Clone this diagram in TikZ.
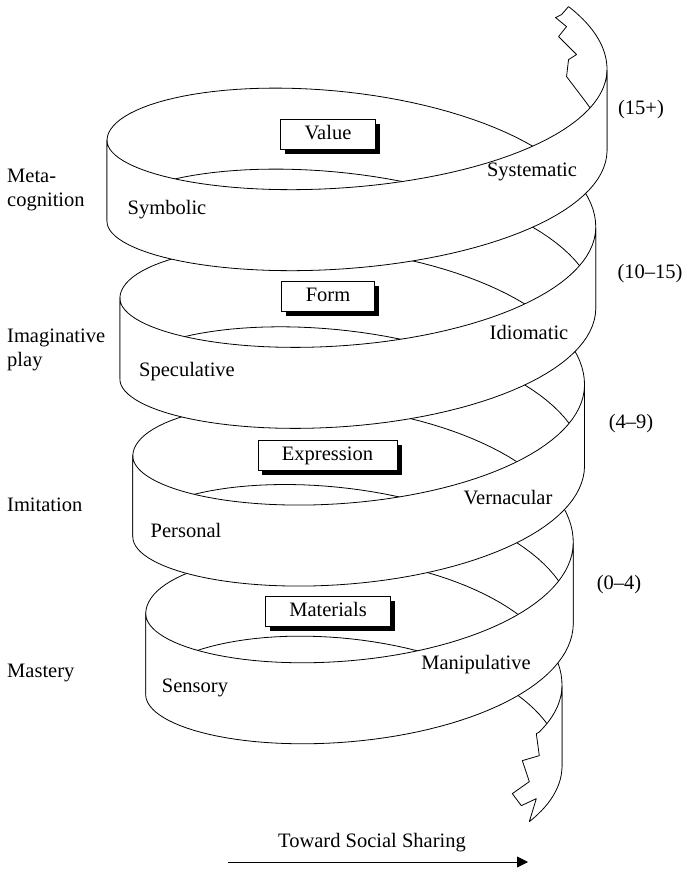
\documentclass[tikz,border=0pt]{standalone}
\usepackage{fontspec}
\setmainfont{Liberation Serif}
\usetikzlibrary{positioning,shadows,arrows.meta}

\tikzstyle{band} = [draw=black, fill=white, line width=0.8pt, line join=round]
\tikzstyle{stagebox} = [draw=black, fill=white, line width=0.8pt, rectangle,
    inner xsep=24pt, inner ysep=0pt, text height=14pt, text depth=4pt, minimum height=30pt,
    drop shadow={shadow xshift=4.5pt, shadow yshift=-4.5pt, fill=black, opacity=1}]
\tikzstyle{lbl} = [inner sep=0pt]
\tikzstyle{sidelbl} = [inner sep=0pt, anchor=west, align=left]
\tikzstyle{flowarrow} = [line width=0.8pt, -{Triangle[length=11pt,width=11pt]}]

% helix: s counts turns, s=0 is the left edge of the top ring
\tikzset{declare function={
    hx(\s) = 354.2 - 0.825*(\s) - (247.2 + 12.08*(\s))*cos(360*(\s));
    hy(\s) = 140 - 157.7*(\s) + (sin(360*(\s)) > 0 ? 82 : 91)*sin(360*(\s))
             + 4.5*(1 - cos(360*(\s))) - 30*max(0, -3-(\s));
}}

\newcommand{\halfturn}[2]{%
    \draw[band] plot[domain=#1:#2, samples=60, variable=\q] ({hx(\q)},{hy(\q)})
        -- plot[domain=#2:#1, samples=60, variable=\q] ({hx(\q)},{hy(\q)+81}) -- cycle;}

\begin{document}
\begin{tikzpicture}[x=1pt, y=-1pt, font=\fontsize{20.5}{24}\selectfont]
    \useasboundingbox (0,0) rectangle (686,872);

    % back halves
    \halfturn{-3.5}{-3}
    \halfturn{-2.5}{-2}
    \halfturn{-1.5}{-1}
    \halfturn{-0.5}{0}
    % torn end at the top
    \draw[band] plot[domain=0.5:0.59, samples=20, variable=\q] ({hx(\q)},{hy(\q)})
        -- ++(-7,8) -- ++(-6,3) -- ++(11,9) -- ++(-8,10) -- ++(18,18) -- ++(-8,5) -- ++(-2,17) -- ++(19,25)
        -- plot[domain=0.55:0.5, samples=12, variable=\q] ({hx(\q)},{hy(\q)+81}) -- cycle;

    % front halves
    \halfturn{-3}{-2.5}
    \halfturn{-2}{-1.5}
    \halfturn{-1}{-0.5}
    \halfturn{0}{0.5}
    % torn end at the bottom
    \draw[band] plot[domain=-3.575:-3.5, samples=15, variable=\q] ({hx(\q)},{hy(\q)})
        -- plot[domain=-3.5:-3.59, samples=15, variable=\q] ({hx(\q)},{hy(\q)+81})
        -- ++(7,-23) -- ++(-15,7) -- ++(-9,-12) -- ++(17,-12) -- ++(-7,-21) -- ++(17,-5) -- ++(-3,-22) -- cycle;

    % stage boxes
    \node[stagebox] (value) at (328,134.5) {Value};
    \node[stagebox] (form) at (328,296.5) {Form};
    \node[stagebox] (expression) at (327.5,455) {Expression};
    \node[stagebox] (materials) at (328,611) {Materials};

    % labels on the band
    \node[lbl] (symbolic) at (167,210) {Symbolic};
    \node[lbl] (systematic) at (532,172) {Systematic};
    \node[lbl] (speculative) at (187,372) {Speculative};
    \node[lbl] (idiomatic) at (529,332) {Idiomatic};
    \node[lbl] (personal) at (186,530) {Personal};
    \node[lbl] (vernacular) at (508,498) {Vernacular};
    \node[lbl] (sensory) at (195,688) {Sensory};
    \node[lbl] (manipulative) at (476,665) {Manipulative};

    % modes on the left
    \node[sidelbl] (metacog) at (7,190) {Meta-\\cognition};
    \node[sidelbl] (imagplay) at (7,350) {Imaginative\\play};
    \node[sidelbl] (imitation) at (7,505) {Imitation};
    \node[sidelbl] (mastery) at (7,673) {Mastery};

    % ages on the right
    \node[lbl] (age15) at (641,110) {(15+)};
    \node[lbl] (age10) at (650,274) {(10--15)};
    \node[lbl] (age4) at (631,424) {(4--9)};
    \node[lbl] (age0) at (619,585) {(0--4)};

    % direction arrow
    \coordinate (flowstart) at (228,862);
    \coordinate (flowend) at (528,862);
    \draw[flowarrow] (flowstart) -- (flowend);
    \node[lbl] (flowlabel) at (372,843) {Toward Social Sharing};
\end{tikzpicture}
\end{document}
